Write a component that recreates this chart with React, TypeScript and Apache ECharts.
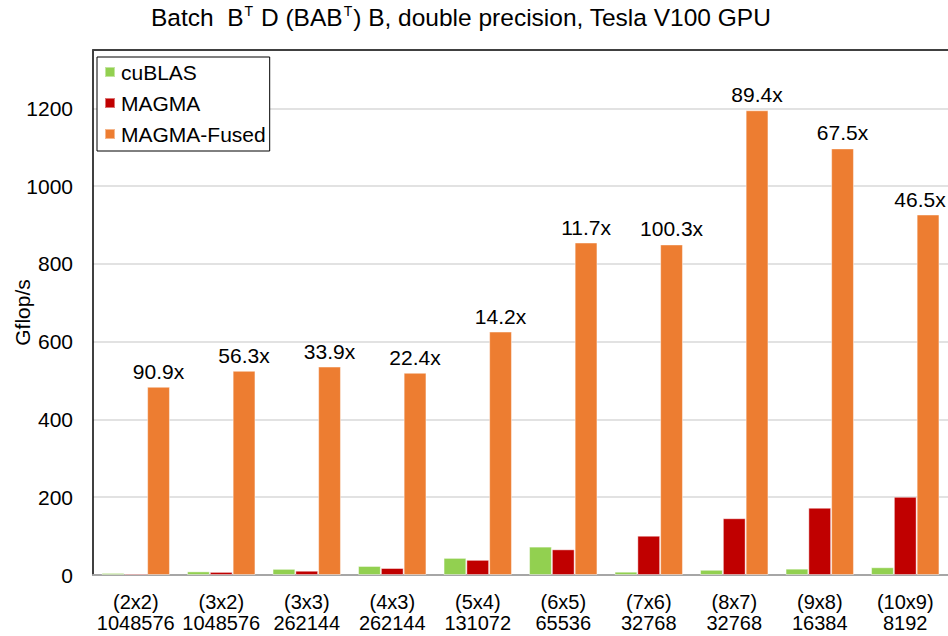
import React, { useEffect, useRef } from "react";
import * as echarts from "echarts";

const categories = [
  "(2x2)\n1048576",
  "(3x2)\n1048576",
  "(3x3)\n262144",
  "(4x3)\n262144",
  "(5x4)\n131072",
  "(6x5)\n65536",
  "(7x6)\n32768",
  "(8x7)\n32768",
  "(9x8)\n16384",
  "(10x9)\n8192",
];
const cublas = [5.3, 9.3, 15.8, 23.2, 44, 73, 8.5, 13.4, 16.3, 19.9];
const magma = [4, 8, 11, 18, 39, 66, 101, 146, 173, 201];
const magmaFused = [484, 525, 536, 520, 626, 855, 850, 1195, 1097, 927];
const speedups = ["90.9x", "56.3x", "33.9x", "22.4x", "14.2x", "11.7x", "100.3x", "89.4x", "67.5x", "46.5x"];

const FONT = "'Liberation Sans', Arial, sans-serif";

export default function App() {
  const ref = useRef<HTMLDivElement>(null);
  useEffect(() => {
    if (!ref.current) return;
    const chart = echarts.init(ref.current, undefined, { renderer: "svg" });
    const barItem = (color: string) => ({
      color,
      borderColor: "rgba(255,255,255,0.45)",
      borderWidth: 1,
    });
    const last = magmaFused.length - 1;
    chart.setOption({
      animation: false,
      backgroundColor: "#ffffff",
      textStyle: { fontFamily: FONT },
      title: {
        text: "{m|Batch  B}{s|T}{m| D (BAB}{s|T}{m|) B, double precision, Tesla V100 GPU}",
        left: 151,
        top: 2,
        padding: 0,
        textStyle: {
          fontWeight: "normal",
          rich: {
            m: { fontSize: 24.5, fontWeight: "normal", fontFamily: FONT, color: "#000", lineHeight: 28, verticalAlign: "bottom" },
            s: { fontSize: 14, fontWeight: "normal", fontFamily: FONT, color: "#000", lineHeight: 28, verticalAlign: "top", padding: [2, 1, 0, 1] },
          },
        },
      },
      legend: {
        orient: "vertical",
        left: 97,
        top: 57,
        padding: [4, 4, 6, 7],
        itemGap: 9,
        itemWidth: 10,
        itemHeight: 10,
        icon: "rect",
        borderColor: "#000",
        borderWidth: 1,
        backgroundColor: "#fff",
        textStyle: { fontSize: 21, fontFamily: FONT, color: "#000", padding: [0, 0, 0, 1], lineHeight: 22 },
        data: ["cuBLAS", "MAGMA", "MAGMA-Fused"],
      },
      grid: { left: 93, right: 0, top: 50, bottom: 61, outerBoundsMode: "none", containLabel: false },
      xAxis: [
        {
          type: "category",
          data: categories,
          axisLine: { lineStyle: { color: "#a6a6a6", width: 2 } },
          axisTick: { show: false },
          axisLabel: {
            interval: 0,
            fontSize: 20,
            lineHeight: 21,
            color: "#000",
            fontFamily: FONT,
            margin: 16,
          },
        },
        {
          type: "category",
          position: "top",
          data: categories,
          axisLine: { show: true, lineStyle: { color: "#404040", width: 2 } },
          axisTick: { show: false },
          axisLabel: { show: false },
        },
      ],
      yAxis: {
        type: "value",
        min: 0,
        max: 1350,
        interval: 200,
        name: "Gflop/s",
        nameLocation: "middle",
        nameGap: 60,
        nameMoveOverlap: false,
        nameTextStyle: { fontSize: 21, color: "#000", fontFamily: FONT },
        axisLine: { show: true, lineStyle: { color: "#000", width: 1.5 } },
        axisTick: { show: false },
        axisLabel: {
          fontSize: 21,
          color: "#000",
          fontFamily: FONT,
          margin: 20,
          formatter: (v: number) => (v % 200 === 0 ? String(v) : ""),
        },
        splitLine: { lineStyle: { color: "#d9d9d9", width: 1.5 } },
      },
      series: [
        {
          name: "cuBLAS",
          type: "bar",
          data: cublas,
          barGap: "0%",
          barCategoryGap: "20%",
          itemStyle: barItem("#92d050"),
        },
        {
          name: "MAGMA",
          type: "bar",
          data: magma,
          barGap: "0%",
          barCategoryGap: "20%",
          itemStyle: barItem("#c00000"),
        },
        {
          name: "MAGMA-Fused",
          type: "bar",
          data: magmaFused.map((v, i) => (i === last ? { value: v, label: { offset: [-8, 0] } } : v)),
          barGap: "0%",
          barCategoryGap: "20%",
          itemStyle: barItem("#ed7d31"),
          label: {
            show: true,
            position: "top",
            distance: 5,
            fontSize: 21,
            color: "#000",
            fontFamily: FONT,
            formatter: (p: any) => speedups[p.dataIndex],
          },
        },
      ],
    });
    return () => chart.dispose();
  }, []);
  return <div ref={ref} style={{ width: 948, height: 636, position: "absolute", left: 0, top: 0 }} />;
}
